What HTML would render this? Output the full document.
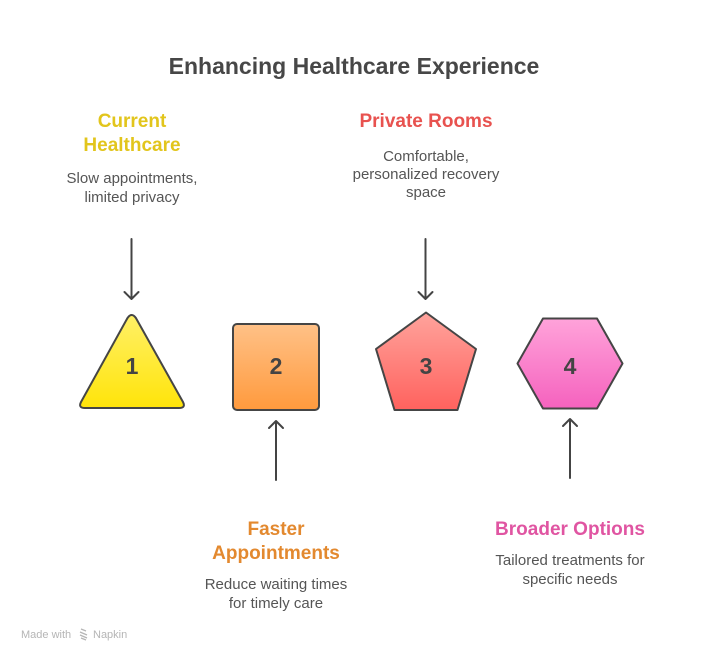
<!DOCTYPE html>
<html><head><meta charset="utf-8"><style>
html,body{margin:0;padding:0;background:#fff;}
svg{display:block;}
text{font-family:"Liberation Sans",Arial,sans-serif;}
</style></head><body>
<svg width="709" height="660" viewBox="0 0 709 660" xmlns="http://www.w3.org/2000/svg">
<defs>
<linearGradient id="gy" x1="0" y1="0" x2="0" y2="1"><stop offset="0" stop-color="#FFF066"/><stop offset="1" stop-color="#FFE40A"/></linearGradient>
<linearGradient id="go" x1="0" y1="0" x2="0" y2="1"><stop offset="0" stop-color="#FFC187"/><stop offset="1" stop-color="#FF9A3D"/></linearGradient>
<linearGradient id="gr" x1="0" y1="0" x2="0" y2="1"><stop offset="0" stop-color="#FFA39C"/><stop offset="1" stop-color="#FF625E"/></linearGradient>
<linearGradient id="gp" x1="0" y1="0" x2="0" y2="1"><stop offset="0" stop-color="#FFA3DA"/><stop offset="1" stop-color="#F562BE"/></linearGradient>
</defs>
<rect width="709" height="660" fill="#fff"/>
<text x="354" y="74" text-anchor="middle" font-size="23" font-weight="bold" fill="#474747">Enhancing Healthcare Experience</text>

<!-- labels top -->
<text x="132" y="127" text-anchor="middle" font-size="19" font-weight="bold" fill="#E2C51C">Current</text>
<text x="132" y="151" text-anchor="middle" font-size="19" font-weight="bold" fill="#E2C51C">Healthcare</text>
<text x="132" y="183" text-anchor="middle" font-size="15" fill="#555">Slow appointments,</text>
<text x="132" y="202" text-anchor="middle" font-size="15" fill="#555">limited privacy</text>

<text x="426" y="127" text-anchor="middle" font-size="19" font-weight="bold" fill="#E8524F">Private Rooms</text>
<text x="426" y="161" text-anchor="middle" font-size="15" fill="#555">Comfortable,</text>
<text x="426" y="179" text-anchor="middle" font-size="15" fill="#555">personalized recovery</text>
<text x="426" y="197" text-anchor="middle" font-size="15" fill="#555">space</text>

<!-- labels bottom -->
<text x="276" y="535" text-anchor="middle" font-size="19" font-weight="bold" fill="#E3892F">Faster</text>
<text x="276" y="559" text-anchor="middle" font-size="19" font-weight="bold" fill="#E3892F">Appointments</text>
<text x="276" y="589" text-anchor="middle" font-size="15" fill="#555">Reduce waiting times</text>
<text x="276" y="608" text-anchor="middle" font-size="15" fill="#555">for timely care</text>

<text x="570" y="535" text-anchor="middle" font-size="19" font-weight="bold" fill="#E055A2">Broader Options</text>
<text x="570" y="565" text-anchor="middle" font-size="15" fill="#555">Tailored treatments for</text>
<text x="570" y="584" text-anchor="middle" font-size="15" fill="#555">specific needs</text>

<!-- arrows -->
<g stroke="#444" stroke-width="2" fill="none" stroke-linecap="round" stroke-linejoin="round">
<line x1="131.5" y1="239" x2="131.5" y2="298"/>
<polyline points="124.5,292 131.5,299 138.5,292"/>
<line x1="425.5" y1="239" x2="425.5" y2="298"/>
<polyline points="418.5,292 425.5,299 432.5,292"/>
<line x1="276" y1="422" x2="276" y2="480"/>
<polyline points="269,428 276,421 283,428"/>
<line x1="570" y1="420" x2="570" y2="478"/>
<polyline points="563,426 570,419 577,426"/>
</g>

<!-- shapes -->
<g stroke="#454545" stroke-width="2" stroke-linejoin="round">
<path d="M127.5,318 Q131.7,312 135.9,318 L183,402 Q186,408 179,408 L85,408 Q78,408 81,402 Z" fill="url(#gy)"/>
<rect x="233" y="324" width="86" height="86" rx="4" fill="url(#go)"/>
<path d="M426,312.5 L476,349 L457.5,410 L394.5,410 L376,349 Z" fill="url(#gr)"/>
<path d="M517.5,363.5 L543,318.5 L597,318.5 L622.5,363.5 L597,408.5 L543,408.5 Z" fill="url(#gp)"/>
</g>
<g font-size="23" font-weight="bold" fill="#444" text-anchor="middle">
<text x="132" y="374">1</text>
<text x="276" y="374">2</text>
<text x="426" y="374">3</text>
<text x="570" y="374">4</text>
</g>

<!-- footer -->
<text x="21" y="638" font-size="11" fill="#b5b5b5">Made with</text>
<g stroke="#b5b5b5" stroke-width="1.3" fill="none"><path d="M81,629 l5,2 M80,632 l7,3 M80,635 l7,3 M81,638 l5,2"/></g>
<text x="93" y="638" font-size="11" fill="#b5b5b5">Napkin</text>
</svg>
</body></html>
